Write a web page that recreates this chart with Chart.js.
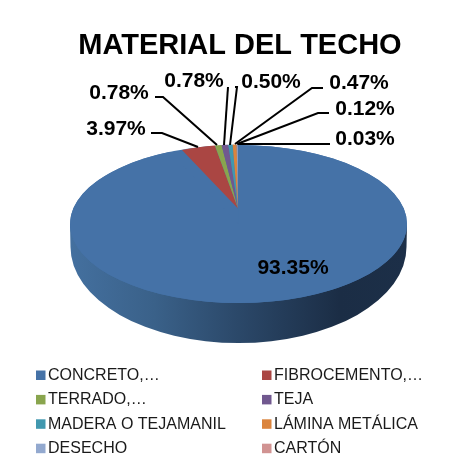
<!DOCTYPE html>
<html>
<head>
<meta charset="utf-8">
<style>
  html, body { margin: 0; padding: 0; background: #fff; }
  canvas { display: block; }
</style>
<script src="https://cdn.jsdelivr.net/npm/chart.js@4/dist/chart.umd.min.js"></script>
</head>
<body>
<canvas id="techo" width="458" height="458"></canvas>
<script>
const titulo = "MATERIAL DEL TECHO";
const categorias = ["CONCRETO,…", "FIBROCEMENTO,…", "TERRADO,…", "TEJA", "MADERA O TEJAMANIL", "LÁMINA METÁLICA", "DESECHO", "CARTÓN"];
const valores = [93.35, 3.97, 0.78, 0.78, 0.50, 0.47, 0.12, 0.03];
const colores = ["#4572a7", "#aa4643", "#89a54e", "#71588f", "#4198af", "#db843d", "#93a9cf", "#d19392"];

// elipse de la cara superior y del fondo (perspectiva 3D)
const cara = { x: 238.5, y: 224, rx: 168.5, ry: 79 };
const fondo = { x: 238.5, y: 247, rx: 168, ry: 96 };
// las rebanadas chicas tienen el vertice arriba del centro, por la perspectiva
const cuna = { x: 238, y: 208.5, rx: 138, ry: 64 };

// etiquetas: centro del texto y linea guia, en el mismo orden que valores
const guias = [
  { x: 293, y: 268, linea: null },
  { x: 116, y: 129, linea: [[151, 133], [162, 133], [198, 147]] },
  { x: 119, y: 93, linea: [[155, 97], [163, 97], [217, 145]] },
  { x: 194, y: 81, linea: [[228, 87], [224, 145]] },
  { x: 271, y: 82, linea: [[235, 87], [237, 87], [230, 145]] },
  { x: 359, y: 83, linea: [[323, 88], [312, 88], [235, 144]] },
  { x: 365, y: 109, linea: [[329, 113], [318, 113], [237, 144]] },
  { x: 365, y: 139, linea: [[330, 144], [238, 144]] }
];

function aplicar(ctx, arco, e) {
  const r = arco.outerRadius;
  ctx.translate(e.x, e.y);
  ctx.scale(e.rx / r, e.ry / r);
  ctx.translate(-arco.x, -arco.y);
}

const pastel3D = {
  id: "pastel3D",
  beforeDatasetDraw(chart, args) {
    const ctx = chart.ctx;
    const arcos = args.meta.data;

    // pared lateral
    const grad = ctx.createLinearGradient(70, 0, 407, 0);
    grad.addColorStop(0, "#44709f");
    grad.addColorStop(0.25, "#3a6189");
    grad.addColorStop(0.5, "#2b4869");
    grad.addColorStop(0.8, "#1b2d45");
    grad.addColorStop(1, "#1c2f48");
    ctx.save();
    ctx.fillStyle = grad;
    ctx.beginPath();
    ctx.moveTo(cara.x - cara.rx, cara.y);
    ctx.lineTo(fondo.x - fondo.rx, fondo.y);
    ctx.ellipse(fondo.x, fondo.y, fondo.rx, fondo.ry, 0, Math.PI, 0, true);
    ctx.lineTo(cara.x + cara.rx, cara.y);
    ctx.closePath();
    ctx.fill();

    // base de la cara superior
    ctx.fillStyle = colores[0];
    ctx.beginPath();
    ctx.ellipse(cara.x, cara.y, cara.rx, cara.ry, 0, 0, Math.PI * 2);
    ctx.fill();
    ctx.restore();

    arcos.forEach((arco, i) => {
      ctx.save();
      aplicar(ctx, arco, i === 0 ? cara : cuna);
      arco.draw(ctx);
      ctx.restore();
    });
    return false;
  },
  afterDraw(chart) {
    const ctx = chart.ctx;
    ctx.save();

    // lineas guia
    ctx.strokeStyle = "#000";
    ctx.lineWidth = 2;
    guias.forEach(g => {
      if (!g.linea) return;
      ctx.beginPath();
      g.linea.forEach((p, i) => i ? ctx.lineTo(p[0], p[1]) : ctx.moveTo(p[0], p[1]));
      ctx.stroke();
    });

    // etiquetas de porcentaje
    ctx.fillStyle = "#000";
    ctx.font = "bold 21px 'Liberation Sans'";
    ctx.textAlign = "center";
    ctx.textBaseline = "middle";
    valores.forEach((v, i) => ctx.fillText(v.toFixed(2) + "%", guias[i].x, guias[i].y));

    // leyenda en dos columnas
    ctx.font = "16px 'Liberation Sans'";
    ctx.textAlign = "left";
    categorias.forEach((c, i) => {
      const col = i % 2, fila = Math.floor(i / 2);
      const x = col ? 262 : 36;
      const y = 375 + fila * 24.4;
      ctx.fillStyle = colores[i];
      ctx.fillRect(x, y - 4.5, 9.5, 9.5);
      ctx.fillStyle = "#1a1a1a";
      ctx.fillText(c, x + 12, y + 0.5);
    });
    ctx.restore();
  }
};

new Chart(document.getElementById("techo"), {
  type: "pie",
  data: {
    labels: categorias,
    datasets: [{ data: valores, backgroundColor: colores, borderWidth: 0 }]
  },
  options: {
    responsive: false,
    animation: false,
    rotation: 0,
    layout: { padding: { left: 22 } },
    plugins: {
      legend: { display: false },
      tooltip: { enabled: false },
      title: {
        display: true,
        text: titulo,
        color: "#000",
        font: { family: "'Liberation Sans'", size: 29, weight: "bold" },
        padding: { top: 29, bottom: 10 }
      }
    }
  },
  plugins: [pastel3D]
});
</script>
</body>
</html>
